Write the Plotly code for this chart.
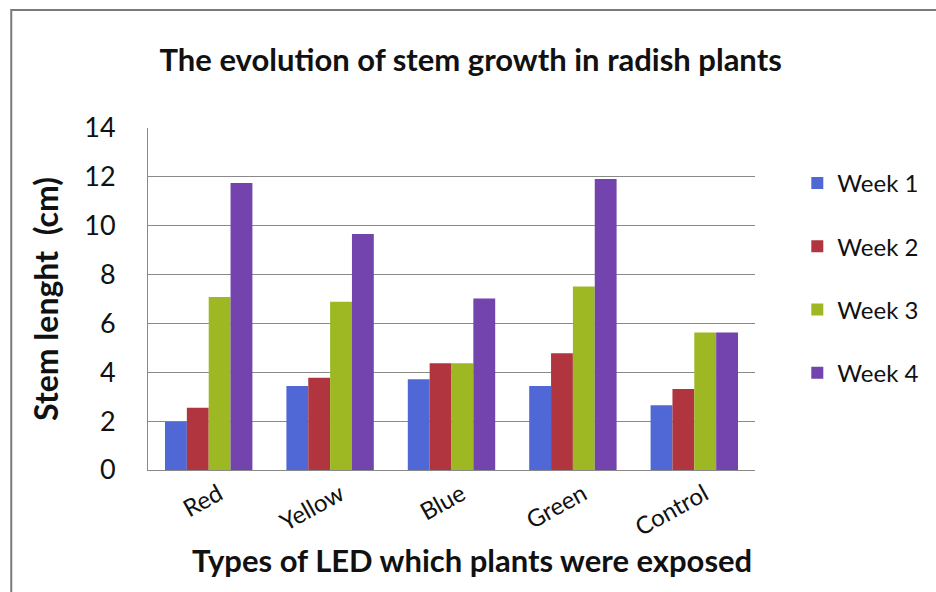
import plotly.graph_objects as go

categories = ["Red", "Yellow", "Blue", "Green", "Control"]
series_names = ["Week 1", "Week 2", "Week 3", "Week 4"]
week1 = [1.98, 3.44, 3.72, 3.44, 2.65]
week2 = [2.55, 3.78, 4.37, 4.78, 3.32]
week3 = [7.08, 6.89, 4.37, 7.51, 5.63]
week4 = [11.75, 9.66, 7.02, 11.91, 5.63]
colors = ["#5067D6", "#B0353F", "#9DB823", "#7343AE"]
y_ticks = [0, 2, 4, 6, 8, 10, 12, 14]

FONT = "Lato"

fig = go.Figure()
for i, (name, vals) in enumerate(zip(series_names, [week1, week2, week3, week4])):
    fig.add_trace(go.Bar(
        x=categories, y=vals, name=name,
        marker=dict(color=colors[i], line=dict(width=0)),
        legendgroup=name,
    ))

# plot area in pixels: left 148, right 765, top 128, bottom 470
L, R, T, B = 148, 765, 128, 470
W, H = 936, 592
fig.update_layout(
    width=W, height=H,
    margin=dict(l=L, r=W - R, t=T, b=H - B),
    paper_bgcolor="white", plot_bgcolor="white",
    barmode="group", bargap=0.28, bargroupgap=0,
    font=dict(family=FONT, color="#111111"),
    title=dict(
        text="<b>The evolution of stem growth in radish plants</b>",
        x=(476 - L) / (R - L), xref="paper", xanchor="center",
        y=1 - 60 / H, yanchor="middle",
        font=dict(size=31, family=FONT, color="#111111"),
    ),
    legend=dict(
        x=(808 - L) / (R - L), xanchor="left",
        y=1 - (161 - T) / (B - T), yanchor="top",
        font=dict(size=24, family=FONT, color="#111111"),
        tracegroupgap=29, traceorder="grouped",
        itemwidth=30, bgcolor="rgba(0,0,0,0)",
    ),
    xaxis=dict(
        tickangle=-29,
        tickfont=dict(size=24, family=FONT, color="#111111"),
        ticklabelshift=10,
        showline=True, linecolor="#8a8a8a", linewidth=1,
        ticks="", showgrid=False,
    ),
    yaxis=dict(
        range=[0, 14], tickvals=y_ticks,
        tickfont=dict(size=27, family=FONT, color="#111111"),
        ticklabelstandoff=26,
        showgrid=True, gridcolor="#8a8a8a", gridwidth=1,
        showline=True, linecolor="#8a8a8a", linewidth=1,
        zeroline=False, ticks="", ticklen=0,
        title=dict(text="<b>Stem lenght  (cm)</b>",
                   font=dict(size=32, family=FONT, color="#111111"), standoff=16),
    ),
)

# x axis title, placed as in the reference (slightly right of the plot centre)
fig.add_annotation(
    text="<b>Types of LED which plants were exposed</b>",
    xref="paper", yref="paper",
    x=(477 - L) / (R - L), y=-(560 - B) / (B - T),
    xanchor="center", yanchor="middle", showarrow=False,
    font=dict(size=31, family=FONT, color="#111111"),
)

# outer chart frame (left and top edges visible)
fig.add_shape(type="rect", xref="paper", yref="paper",
              x0=(9 - L) / (R - L), x1=(960 - L) / (R - L),
              y0=-(620 - B) / (B - T), y1=1 + (T - 10) / (B - T),
              line=dict(color="#7a7a7a", width=2), fillcolor="rgba(0,0,0,0)",
              layer="below")

fig.write_html("out.html")
